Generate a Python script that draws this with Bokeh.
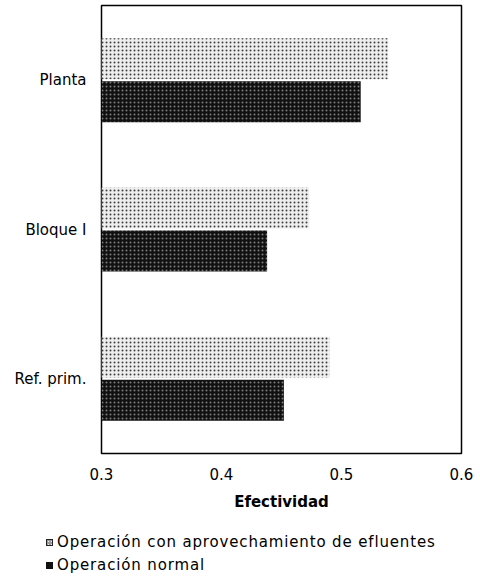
from bokeh.plotting import figure
from bokeh.models import Range1d, FactorRange, ColumnDataSource, FixedTicker, Div
from bokeh.layouts import column
from bokeh.transform import dodge
from bokeh.embed import file_html
from bokeh.resources import INLINE

categories = ["Ref. prim.", "Bloque I", "Planta"]
con_aprovechamiento = [0.490, 0.473, 0.539]
operacion_normal = [0.452, 0.438, 0.516]
x_ticks = [0.3, 0.4, 0.5, 0.6]
series_names = ["Operación con aprovechamiento de efluentes", "Operación normal"]

src = ColumnDataSource(dict(cat=categories, a=con_aprovechamiento, n=operacion_normal))

FONT = "DejaVu Sans"
LIGHT = dict(fill_color="#eeeeee", line_color=None,
             hatch_pattern="dot", hatch_color="#111111", hatch_scale=4, hatch_alpha=0.8)
DARK = dict(fill_color="#111111", line_color=None,
            hatch_pattern="dot", hatch_color="#ffffff", hatch_scale=4, hatch_alpha=0.45)

p = figure(width=480, height=520, output_backend="svg", toolbar_location=None,
           y_range=FactorRange(*categories), x_range=Range1d(0.3, 0.6),
           frame_width=360, frame_height=448,
           min_border_left=101, min_border_right=19, min_border_top=5, min_border_bottom=0)

p.hbar(y=dodge("cat", 0.144, range=p.y_range), left=0.3, right="a", height=0.275, source=src, **LIGHT)
p.hbar(y=dodge("cat", -0.144, range=p.y_range), left=0.3, right="n", height=0.275, source=src, **DARK)

p.xgrid.visible = False
p.ygrid.visible = False
p.outline_line_color = "black"
p.outline_line_width = 1.5

p.xaxis.ticker = FixedTicker(ticks=x_ticks)
p.xaxis.axis_line_color = None
p.xaxis.major_tick_line_color = None
p.xaxis.minor_tick_line_color = None
p.xaxis.major_label_text_font = FONT
p.xaxis.major_label_text_font_size = "15px"
p.xaxis.major_label_text_color = "black"
p.xaxis.major_label_standoff = 8
p.xaxis.axis_label = "Efectividad"
p.xaxis.axis_label_text_font = FONT
p.xaxis.axis_label_text_font_size = "15px"
p.xaxis.axis_label_text_font_style = "bold"
p.xaxis.axis_label_text_color = "black"
p.xaxis.axis_label_standoff = 10

p.yaxis.axis_line_color = None
p.yaxis.major_tick_line_color = None
p.yaxis.minor_tick_line_color = None
p.yaxis.major_label_text_font = FONT
p.yaxis.major_label_text_font_size = "15px"
p.yaxis.major_label_text_color = "black"
p.yaxis.major_label_standoff = 9

# legend (HTML strip below the chart)
swatches = [
    "background:#9a9a9a radial-gradient(circle, #eee 0.7px, transparent 1px) 0 0/3px 3px;border:1px solid #222;",
    "background:#111111;border:1px solid #111;",
]
rows = "".join(
    f'<div style="height:23px;line-height:23px;white-space:nowrap;">'
    f'<span style="display:inline-block;width:7px;height:7px;margin-right:4px;vertical-align:middle;{sw}"></span>'
    f'{name}</div>'
    for name, sw in zip(series_names, swatches)
)
legend = Div(text=f'<div style="font-family:\'{FONT}\';font-size:15px;letter-spacing:0.85px;color:black;'
                  f'padding:18px 0 0 46px;">{rows}</div>',
             width=480, height=58, margin=(0, 0, 0, 0))

open("out.html", "w").write(file_html(column(p, legend, spacing=0), INLINE))
